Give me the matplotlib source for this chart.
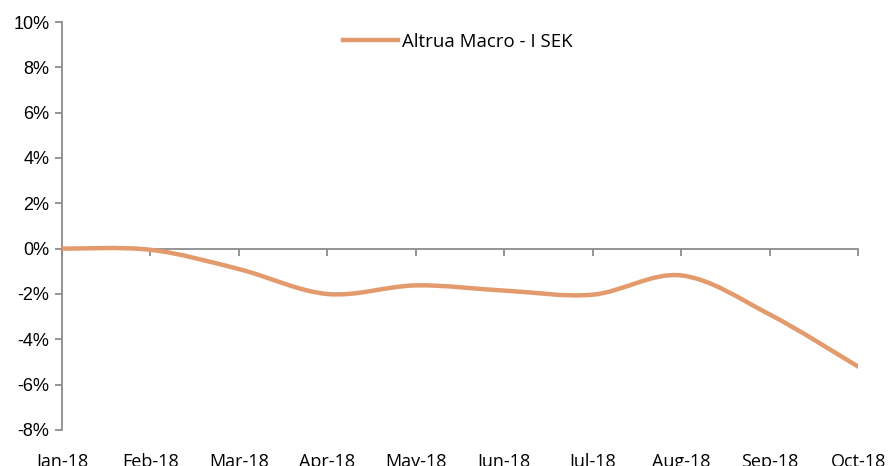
import numpy as np
import matplotlib
matplotlib.use('Agg')
import matplotlib.pyplot as plt
from matplotlib.path import Path
from matplotlib.patches import PathPatch
from matplotlib.lines import Line2D
import matplotlib.transforms as mtransforms

months = ['Jan-18', 'Feb-18', 'Mar-18', 'Apr-18', 'May-18', 'Jun-18',
          'Jul-18', 'Aug-18', 'Sep-18', 'Oct-18']
returns = [0.0, -0.05, -0.9, -2.0, -1.62, -1.85, -2.03, -1.18, -2.9, -5.2]
series_name = 'Altrua Macro - I SEK'

col = '#E39A6C'
axcol = '#8C8C8C'

fig = plt.figure(figsize=(8.88, 4.66), dpi=100)
ax = fig.add_axes([62/888, 36/466, 796/888, 408/466])

# smoothed line (excel style bezier between the points)
x = np.arange(len(returns), dtype=float)
y = np.array(returns)
pts = np.column_stack([x, y])
verts = [pts[0]]
codes = [Path.MOVETO]
for i in range(len(pts) - 1):
    p0 = pts[i - 1] if i > 0 else pts[i]
    p1, p2 = pts[i], pts[i + 1]
    p3 = pts[i + 2] if i + 2 < len(pts) else pts[i + 1]
    verts += [p1 + (p2 - p0) / 6, p2 - (p3 - p1) / 6, p2]
    codes += [Path.CURVE4] * 3
ax.add_patch(PathPatch(Path(verts, codes), facecolor='none', edgecolor=col,
                       lw=3.2, capstyle='round', zorder=3))

ax.set_xlim(0, len(months) - 1)
ax.set_ylim(-8, 10)
ax.set_yticks(np.arange(-8, 11, 2))
ax.set_yticklabels(['%d%%' % v for v in range(-8, 11, 2)],
                   fontsize=13, family='Liberation Sans')

for s in ['top', 'right']:
    ax.spines[s].set_visible(False)
ax.spines['bottom'].set_position(('data', 0))
ax.spines['left'].set_color(axcol)
ax.spines['bottom'].set_color(axcol)
ax.spines['left'].set_linewidth(1.3)
ax.spines['bottom'].set_linewidth(1.3)
ax.tick_params(axis='y', color=axcol, length=5, width=1.3, pad=4)
ax.tick_params(axis='x', color=axcol, length=5, width=1.3, direction='out',
               labelbottom=False)
ax.set_xticks(x)

trans = mtransforms.blended_transform_factory(ax.transData, ax.transAxes)
for i, m in enumerate(months):
    ax.text(i, -0.056, m, transform=trans, ha='center', va='top',
            fontsize=13, family='Open Sans')

handle = Line2D([], [], color=col, lw=3.2)
leg = fig.legend([handle], [series_name], loc='center left',
                 bbox_to_anchor=(343/888, 1 - 42/466), frameon=False,
                 prop={'family': 'Open Sans', 'size': 13.4},
                 handlelength=2.95, handletextpad=0.2,
                 borderpad=0, borderaxespad=0)

fig.savefig('out.png', dpi=100)
